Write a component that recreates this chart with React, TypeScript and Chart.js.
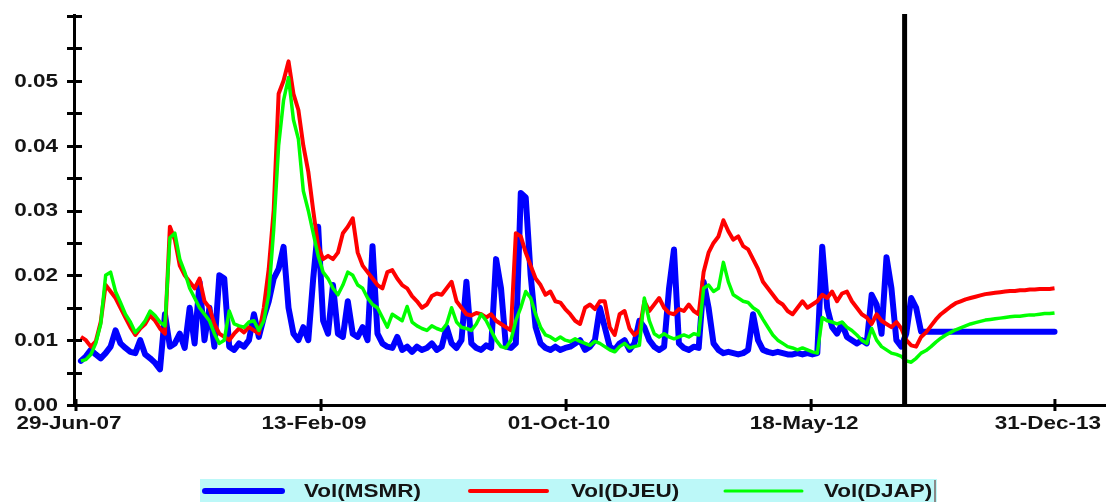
import React, { useEffect, useRef } from 'react';
import { Chart, registerables } from 'chart.js';

Chart.register(...registerables);

// ---------- data ----------
const START_DATE = '2007-06-29';
const STEP_DAYS = 12; // observations are sampled every 12 days from the start date
const X_MAX_DAYS = 2501;

const X_TICK_DATES = ['2007-06-29', '2009-02-13', '2010-10-01', '2012-05-18', '2013-12-31'];
const X_TICK_LABELS = ['29-Jun-07', '13-Feb-09', '01-Oct-10', '18-May-12', '31-Dec-13'];

const Y_TICK_VALUES = [0, 0.01, 0.02, 0.03, 0.04, 0.05];
const Y_TICK_LABELS = ['0.00', '0.01', '0.02', '0.03', '0.04', '0.05'];
const Y_MINOR_STEP = 0.005;
const Y_MAX = 0.06;

const FORECAST_START = '2012-12-31';

const SERIES_NAMES = ['Vol(MSMR)', 'Vol(DJEU)', 'Vol(DJAP)'];
const SERIES_COLORS = ['#0000ff', '#ff0000', '#00ff00'];

const MSMR_HIST = [
  0.0068, 0.0075, 0.0085, 0.0078, 0.0072, 0.0080, 0.0090, 0.0115, 0.0095, 0.0088,
  0.0082, 0.0080, 0.0100, 0.0078, 0.0072, 0.0065, 0.0055, 0.0140, 0.0090, 0.0095,
  0.0110, 0.0088, 0.0150, 0.0095, 0.0190, 0.0100, 0.0150, 0.0090, 0.0200, 0.0195,
  0.0090, 0.0085, 0.0095, 0.0090, 0.0100, 0.0140, 0.0105, 0.0135, 0.0160, 0.0195,
  0.0210, 0.0244, 0.0150, 0.0110, 0.0100, 0.0120, 0.0100, 0.0195, 0.0275, 0.0130,
  0.0110, 0.0185, 0.0110, 0.0105, 0.0160, 0.0110, 0.0105, 0.0120, 0.0100, 0.0245,
  0.0110, 0.0095, 0.0090, 0.0088, 0.0105, 0.0085, 0.0090, 0.0082, 0.0090, 0.0085,
  0.0088, 0.0095, 0.0085, 0.0090, 0.0120, 0.0095, 0.0088, 0.0100, 0.0190, 0.0095,
  0.0088, 0.0085, 0.0092, 0.0088, 0.0225, 0.0180, 0.0090, 0.0088, 0.0095, 0.0327,
  0.0320, 0.0200, 0.0120, 0.0095, 0.0088, 0.0085, 0.0090, 0.0085, 0.0088, 0.0090,
  0.0095, 0.0100, 0.0085, 0.0090, 0.0100, 0.0150, 0.0120, 0.0090, 0.0085, 0.0095,
  0.0100, 0.0085, 0.0095, 0.0130, 0.0120, 0.0100, 0.0090, 0.0085, 0.0090, 0.0180,
  0.0240, 0.0095, 0.0088, 0.0085, 0.0090, 0.0088, 0.0190, 0.0150, 0.0095, 0.0085,
  0.0080, 0.0082, 0.0080, 0.0078, 0.0080, 0.0085, 0.0140, 0.0100, 0.0085, 0.0082,
  0.0080, 0.0082, 0.0080, 0.0078, 0.0078, 0.0080, 0.0078, 0.0080, 0.0078, 0.0080,
  0.0244, 0.0150, 0.0120, 0.0110, 0.0125, 0.0105, 0.0100, 0.0095, 0.0100, 0.0095,
  0.0170, 0.0155, 0.0110, 0.0228, 0.0180, 0.0100, 0.0090, 0.0110, 0.0165, 0.0150,
  0.0113,
];
const MSMR_FCST = [
  0.0113, 0.0113, 0.0113, 0.0113, 0.0113, 0.0113, 0.0113, 0.0113, 0.0113, 0.0113,
  0.0113, 0.0113, 0.0113, 0.0113, 0.0113, 0.0113, 0.0113, 0.0113, 0.0113, 0.0113,
  0.0113, 0.0113, 0.0113, 0.0113, 0.0113, 0.0113, 0.0113,
];

const DJEU_HIST = [
  0.0105, 0.0100, 0.0090, 0.0098, 0.0128, 0.0185, 0.0175, 0.0165, 0.0150, 0.0135,
  0.0120, 0.0108, 0.0118, 0.0125, 0.0138, 0.0130, 0.0118, 0.0110, 0.0275, 0.0255,
  0.0215, 0.0200, 0.0190, 0.0180, 0.0195, 0.0160, 0.0150, 0.0125, 0.0110, 0.0105,
  0.0100, 0.0110, 0.0118, 0.0112, 0.0120, 0.0115, 0.0110, 0.0150, 0.0210, 0.0300,
  0.0480, 0.0500, 0.0530, 0.0480, 0.0455, 0.0400, 0.0360, 0.0300, 0.0245, 0.0225,
  0.0230, 0.0225, 0.0235, 0.0265, 0.0275, 0.0288, 0.0235, 0.0215, 0.0205, 0.0195,
  0.0185, 0.0180, 0.0205, 0.0208, 0.0195, 0.0185, 0.0180, 0.0168, 0.0160, 0.0150,
  0.0155, 0.0168, 0.0172, 0.0170, 0.0180, 0.0190, 0.0160, 0.0150, 0.0140, 0.0138,
  0.0142, 0.0140, 0.0135, 0.0140, 0.0130, 0.0125, 0.0120, 0.0115, 0.0265, 0.0260,
  0.0235, 0.0215, 0.0195, 0.0185, 0.0170, 0.0175, 0.0160, 0.0158, 0.0148, 0.0140,
  0.0130, 0.0125, 0.0150, 0.0155, 0.0148, 0.0160, 0.0160, 0.0120, 0.0108, 0.0140,
  0.0145, 0.0118, 0.0108, 0.0115, 0.0160, 0.0145, 0.0155, 0.0165, 0.0150, 0.0142,
  0.0140, 0.0148, 0.0145, 0.0155, 0.0145, 0.0140, 0.0205, 0.0235, 0.0250, 0.0260,
  0.0285, 0.0268, 0.0255, 0.0260, 0.0245, 0.0240, 0.0225, 0.0210, 0.0190, 0.0180,
  0.0170, 0.0160, 0.0155, 0.0145, 0.0140, 0.0150, 0.0160, 0.0150, 0.0155, 0.0160,
  0.0170, 0.0165, 0.0175, 0.0160, 0.0172, 0.0175, 0.0160, 0.0150, 0.0140, 0.0135,
  0.0125, 0.0140, 0.0130, 0.0125, 0.0120, 0.0128, 0.0118, 0.0100, 0.0092, 0.0090,
  0.0105,
];
const DJEU_FCST = [
  0.0112, 0.0122, 0.0132, 0.0140, 0.0146, 0.0152, 0.0157, 0.0160, 0.0163, 0.0165,
  0.0167, 0.0169, 0.0171, 0.0172, 0.0173, 0.0174, 0.0175, 0.0176, 0.0176, 0.0177,
  0.0177, 0.0178, 0.0178, 0.0179, 0.0179, 0.0179, 0.0180,
];

const DJAP_HIST = [
  0.0068, 0.0070, 0.0078, 0.0095, 0.0125, 0.0200, 0.0205, 0.0175, 0.0158, 0.0140,
  0.0128, 0.0112, 0.0120, 0.0130, 0.0145, 0.0138, 0.0128, 0.0122, 0.0258, 0.0265,
  0.0225, 0.0205, 0.0180, 0.0165, 0.0150, 0.0140, 0.0130, 0.0110, 0.0095, 0.0100,
  0.0145, 0.0125, 0.0122, 0.0120, 0.0128, 0.0130, 0.0115, 0.0130, 0.0170, 0.0270,
  0.0400, 0.0470, 0.0505, 0.0440, 0.0410, 0.0330, 0.0300, 0.0265, 0.0230, 0.0205,
  0.0195, 0.0180, 0.0170, 0.0185, 0.0205, 0.0200, 0.0185, 0.0180, 0.0165, 0.0155,
  0.0150, 0.0135, 0.0120, 0.0140, 0.0135, 0.0130, 0.0152, 0.0128, 0.0122, 0.0118,
  0.0115, 0.0122, 0.0118, 0.0115, 0.0125, 0.0150, 0.0128, 0.0120, 0.0118, 0.0115,
  0.0125, 0.0140, 0.0130, 0.0115, 0.0100, 0.0090, 0.0088, 0.0100, 0.0130, 0.0150,
  0.0175, 0.0165, 0.0140, 0.0120, 0.0108, 0.0105, 0.0100, 0.0105, 0.0100, 0.0098,
  0.0102, 0.0098, 0.0095, 0.0092, 0.0098, 0.0095, 0.0090, 0.0085, 0.0082, 0.0090,
  0.0095, 0.0088, 0.0090, 0.0092, 0.0165, 0.0130, 0.0110, 0.0105, 0.0110, 0.0105,
  0.0102, 0.0105, 0.0108, 0.0105, 0.0110, 0.0108, 0.0180, 0.0185, 0.0175, 0.0180,
  0.0220, 0.0190, 0.0170, 0.0165, 0.0160, 0.0158, 0.0150, 0.0145, 0.0132, 0.0120,
  0.0108, 0.0100, 0.0095, 0.0090, 0.0088, 0.0085, 0.0088, 0.0085, 0.0082, 0.0080,
  0.0135, 0.0130, 0.0128, 0.0125, 0.0128, 0.0120, 0.0115, 0.0108, 0.0100, 0.0095,
  0.0118, 0.0100, 0.0090, 0.0085, 0.0080, 0.0078, 0.0075, 0.0068, 0.0066, 0.0072,
  0.0080,
];
const DJAP_FCST = [
  0.0084, 0.0090, 0.0097, 0.0103, 0.0108, 0.0112, 0.0116, 0.0119, 0.0122, 0.0125,
  0.0127, 0.0129, 0.0131, 0.0132, 0.0133, 0.0134, 0.0135, 0.0136, 0.0137, 0.0137,
  0.0138, 0.0139, 0.0139, 0.0140, 0.0141, 0.0141, 0.0142,
];

// ---------- helpers ----------
const DAY_MS = 86400000;
const dayOf = (d: string) => Math.round((Date.parse(d) - Date.parse(START_DATE)) / DAY_MS);
const toPoints = (vals: number[]) => vals.map((v, k) => ({ x: STEP_DAYS * (k + 1), y: v }));

const FONT = 'bold 18px "Liberation Sans", Arial, sans-serif';
const STRETCH = 1.25;

function stretchedText(ctx: CanvasRenderingContext2D, text: string, x: number, y: number, align: CanvasTextAlign) {
  ctx.save();
  ctx.translate(x, y);
  ctx.scale(STRETCH, 1);
  ctx.textAlign = align;
  ctx.fillText(text, 0, 0);
  ctx.restore();
}

function seg(ctx: CanvasRenderingContext2D, x1: number, y1: number, x2: number, y2: number) {
  ctx.beginPath();
  ctx.moveTo(x1, y1);
  ctx.lineTo(x2, y2);
  ctx.stroke();
}

const axesPlugin = {
  id: 'customAxes',
  afterDatasetsDraw(chart: any) {
    const { ctx, scales } = chart;
    const xs = scales.x;
    const ys = scales.y;
    const y0 = ys.getPixelForValue(0);
    const yTop = ys.getPixelForValue(Y_MAX);
    const x0 = xs.getPixelForValue(0);
    ctx.save();
    ctx.strokeStyle = '#000';
    ctx.lineCap = 'butt';

    // y axis + ticks
    ctx.lineWidth = 3;
    seg(ctx, x0 - 1.5, yTop - 2, x0 - 1.5, y0 + 2);
    for (let k = 0; k * Y_MINOR_STEP <= Y_MAX + 1e-9; k++) {
      const py = Math.round(ys.getPixelForValue(k * Y_MINOR_STEP)) + 0.5;
      seg(ctx, x0 - 9, py, x0 + 6, py);
    }

    // x axis + ticks
    seg(ctx, x0 - 3, y0 + 0.5, chart.width, y0 + 0.5);
    X_TICK_DATES.forEach((d) => {
      const px = xs.getPixelForValue(dayOf(d));
      seg(ctx, px, y0 - 6, px, y0 + 6);
    });

    // forecast divider
    const fx = xs.getPixelForValue(dayOf(FORECAST_START));
    ctx.lineWidth = 5;
    seg(ctx, fx, yTop - 2, fx, y0 + 2);

    // labels
    ctx.fillStyle = '#141414';
    ctx.font = FONT;
    ctx.textBaseline = 'middle';
    Y_TICK_VALUES.forEach((v, i) => {
      stretchedText(ctx, Y_TICK_LABELS[i], x0 - 18, ys.getPixelForValue(v) + 1, 'right');
    });
    X_TICK_DATES.forEach((d, i) => {
      stretchedText(ctx, X_TICK_LABELS[i], xs.getPixelForValue(dayOf(d)) - 7, y0 + 19, 'center');
    });
    ctx.restore();
  },
  afterDraw(chart: any) {
    const { ctx } = chart;
    ctx.save();
    // legend box
    ctx.fillStyle = '#bcf8f8';
    ctx.fillRect(200, 479, 737, 23);
    ctx.fillStyle = '#8a8a8a';
    ctx.fillRect(934, 480, 2, 22);
    const ly = 491;
    const lineX = [205, 470, 725];
    const textX = [304, 571, 824];
    const widths = [6, 4, 3];
    ctx.lineCap = 'round';
    SERIES_NAMES.forEach((name, i) => {
      ctx.strokeStyle = SERIES_COLORS[i];
      ctx.lineWidth = widths[i];
      seg(ctx, lineX[i], ly, lineX[i] + 77, ly);
      ctx.fillStyle = '#141414';
      ctx.font = FONT;
      ctx.textBaseline = 'middle';
      stretchedText(ctx, name, textX[i], ly + 1, 'left');
    });
    ctx.restore();
  },
};

export default function App() {
  const canvasRef = useRef<HTMLCanvasElement | null>(null);

  useEffect(() => {
    if (!canvasRef.current) return;
    const chart = new Chart(canvasRef.current, {
      type: 'line',
      data: {
        datasets: [
          {
            label: SERIES_NAMES[0],
            data: toPoints([...MSMR_HIST, ...MSMR_FCST]),
            borderColor: SERIES_COLORS[0],
            borderWidth: 6,
            borderJoinStyle: 'round',
            borderCapStyle: 'round',
            pointRadius: 0,
            order: 3,
          },
          {
            label: SERIES_NAMES[1],
            data: toPoints([...DJEU_HIST, ...DJEU_FCST]),
            borderColor: SERIES_COLORS[1],
            borderWidth: 4,
            borderJoinStyle: 'round',
            pointRadius: 0,
            order: 2,
          },
          {
            label: SERIES_NAMES[2],
            data: toPoints([...DJAP_HIST, ...DJAP_FCST]),
            borderColor: SERIES_COLORS[2],
            borderWidth: 3.5,
            borderJoinStyle: 'round',
            pointRadius: 0,
            order: 1,
          },
        ],
      },
      options: {
        responsive: false,
        animation: false,
        events: [],
        layout: { padding: { left: 76, right: 0, top: 16, bottom: 97 } },
        plugins: { legend: { display: false }, tooltip: { enabled: false } },
        elements: { line: { tension: 0 } },
        scales: {
          x: { type: 'linear', min: 0, max: X_MAX_DAYS, display: false },
          y: { type: 'linear', min: 0, max: Y_MAX, display: false },
        },
      },
      plugins: [axesPlugin],
    } as any);
    return () => chart.destroy();
  }, []);

  return (
    <div style={{ position: 'absolute', left: 0, top: 0, width: 1106, height: 502, background: '#fff' }}>
      <canvas ref={canvasRef} width={1106} height={502} style={{ display: 'block' }} />
    </div>
  );
}
